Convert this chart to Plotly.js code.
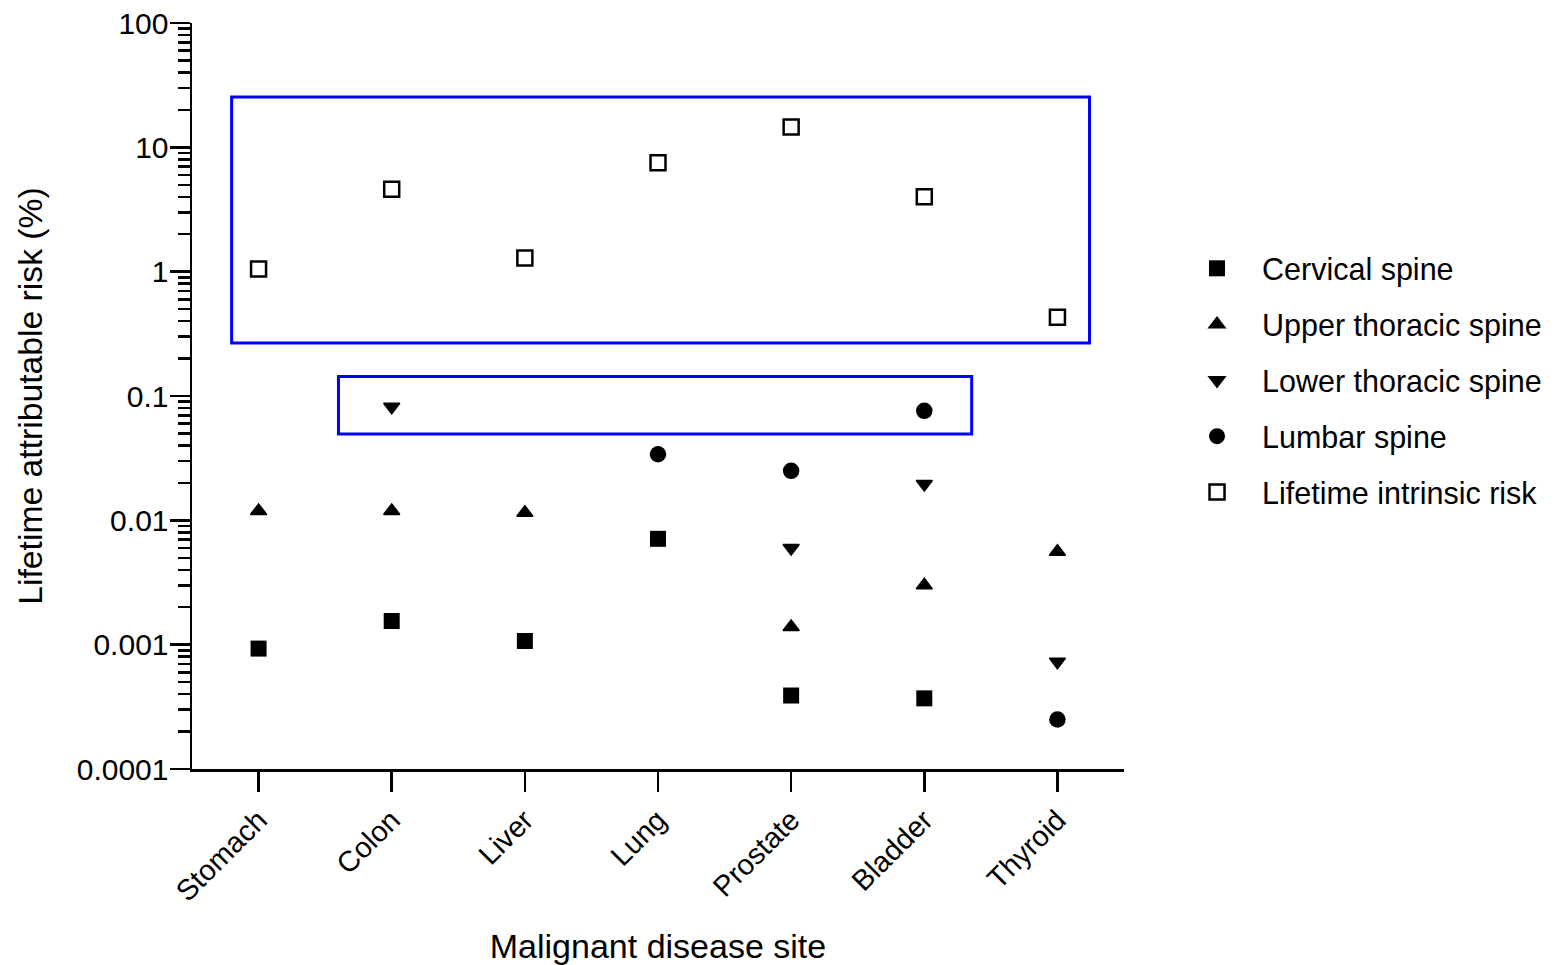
<!DOCTYPE html>
<html>
<head>
<meta charset="utf-8">
<script src="https://cdn.plot.ly/plotly-3.0.1.min.js"></script>
<style>html,body{margin:0;padding:0;background:#fff;}</style>
</head>
<body>
<div id="chart" style="width:1558px;height:965px;"></div>
<script>
const sites = ["Stomach", "Colon", "Liver", "Lung", "Prostate", "Bladder", "Thyroid"];
const cervical = [0.00093, 0.00155, 0.00107, 0.0071, 0.00039, 0.00037, null];
const upperThoracic = [0.0119, 0.0119, 0.0115, null, 0.00139, 0.0030, 0.0056];
const lowerThoracic = [null, 0.082, null, null, 0.0060, 0.0196, 0.00073];
const lumbar = [null, null, null, 0.034, 0.025, 0.076, 0.00025];
const intrinsic = [1.05, 4.6, 1.29, 7.5, 14.6, 4.0, 0.43];
const yTickVals = [0.0001, 0.001, 0.01, 0.1, 1, 10, 100];
const yTickText = ["0.0001", "0.001", "0.01", "0.1", "1", "10", "100"];

const FONT = "Liberation Sans, Arial, sans-serif";

function tr(name, y, symbol, size, lw, i) {
  return {
    type: "scatter", mode: "markers", name: name, x: sites, y: y,
    legendgroup: "g" + i,
    marker: {symbol: symbol, size: size, color: "#000",
             line: {width: lw, color: "#000"}},
    cliponaxis: false
  };
}

const data = [
  tr("Cervical spine", cervical, "square", 16, 0, 1),
  tr("Upper thoracic spine", upperThoracic, "triangle-up", 14, 1.5, 2),
  tr("Lower thoracic spine", lowerThoracic, "triangle-down", 14, 1.5, 3),
  tr("Lumbar spine", lumbar, "circle", 16.5, 0, 4),
  tr("Lifetime intrinsic risk", intrinsic, "square-open", 15, 2.5, 5)
];

const layout = {
  width: 1558, height: 965,
  margin: {l: 192, r: 433, t: 23, b: 196},
  paper_bgcolor: "#fff", plot_bgcolor: "#fff",
  font: {family: FONT, color: "#000", size: 30},
  showlegend: true,
  legend: {x: 1.0504, xanchor: "left", y: 0.5208, yanchor: "middle",
           font: {family: FONT, size: 30.5, color: "#000"},
           tracegroupgap: 13.3, itemwidth: 80, bgcolor: "rgba(0,0,0,0)"},
  xaxis: {
    type: "category", range: [-0.5, 6.5],
    showline: true, linecolor: "#000", linewidth: 2.5,
    ticks: "outside", ticklen: 20, tickwidth: 2.5, tickcolor: "#000",
    tickangle: -45, showgrid: false, zeroline: false,
    tickfont: {family: FONT, size: 29, color: "#000"},
    title: {text: "Malignant disease site", font: {family: FONT, size: 34, color: "#000"}, standoff: 31},
    automargin: false
  },
  yaxis: {
    type: "log", range: [-4, 2],
    showline: true, linecolor: "#000", linewidth: 2.5,
    tickmode: "array", tickvals: yTickVals, ticktext: yTickText,
    ticks: "outside", ticklen: 20, tickwidth: 2.5, tickcolor: "#000",
    ticklabelstandoff: -5,
    minor: {dtick: "D1", ticks: "outside", ticklen: 12, tickwidth: 2.5, tickcolor: "#000", showgrid: false},
    showgrid: false, zeroline: false,
    tickfont: {family: FONT, size: 30, color: "#000"},
    title: {text: "Lifetime attributable risk (%)", font: {family: FONT, size: 33.7, color: "#000"}, standoff: 24},
    automargin: false
  },
  shapes: [
    {type: "rect", xref: "x", yref: "y", x0: -0.2025, x1: 6.241, y0: 0.2668, y1: 25.4,
     line: {color: "#0000FF", width: 3}, fillcolor: "rgba(0,0,0,0)"},
    {type: "rect", xref: "x", yref: "y", x0: 0.600, x1: 5.356, y0: 0.0495, y1: 0.1434,
     line: {color: "#0000FF", width: 3}, fillcolor: "rgba(0,0,0,0)"}
  ]
};

Plotly.newPlot("chart", data, layout, {displayModeBar: false, staticPlot: true});
</script>
</body>
</html>
